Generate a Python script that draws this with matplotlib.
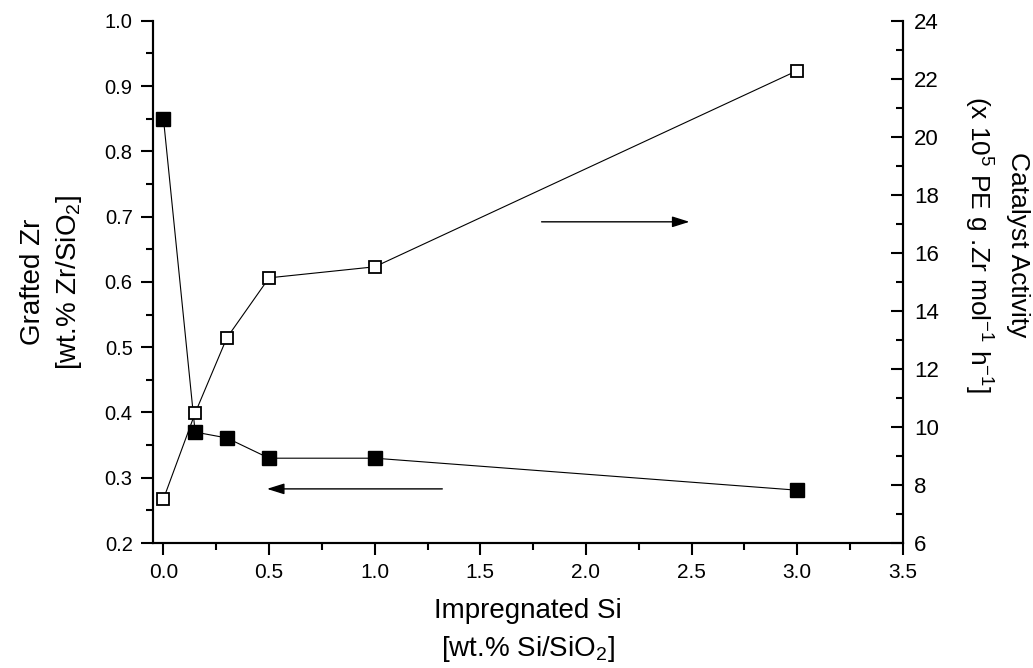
import matplotlib
matplotlib.use("Agg")
import matplotlib.pyplot as plt
from matplotlib.ticker import MultipleLocator

plt.rcParams['font.family'] = ['Liberation Sans', 'DejaVu Sans']
plt.rcParams['mathtext.fontset'] = 'custom'
plt.rcParams['mathtext.rm'] = 'Liberation Sans'
plt.rcParams['mathtext.it'] = 'Liberation Sans:italic'

# impregnated Si [wt.% Si/SiO2]
si = [0.0, 0.15, 0.3, 0.5, 1.0, 3.0]
# grafted Zr [wt.% Zr/SiO2] (filled squares, left axis)
zr = [0.85, 0.37, 0.361, 0.33, 0.33, 0.281]
# catalyst activity (open squares, right axis)
activity = [7.52, 10.48, 13.07, 15.14, 15.52, 22.28]

fig = plt.figure(figsize=(10.33, 6.68), dpi=100)
ax = fig.add_axes([0.148, 0.187, 0.726, 0.782])
ax2 = ax.twinx()

ax.plot(si, zr, color='black', lw=0.8, marker='s', ms=9.5,
        mfc='black', mec='black', zorder=3)
ax2.plot(si, activity, color='black', lw=0.8, marker='s', ms=9,
         mfc='white', mec='black', mew=1.3, zorder=3)

ax.set_xlim(-0.05, 3.5)
ax.set_ylim(0.2, 1.0)
ax2.set_ylim(6, 24)

ax.xaxis.set_major_locator(MultipleLocator(0.5))
ax.xaxis.set_minor_locator(MultipleLocator(0.25))
ax.yaxis.set_major_locator(MultipleLocator(0.1))
ax.yaxis.set_minor_locator(MultipleLocator(0.05))
ax2.yaxis.set_major_locator(MultipleLocator(2))
ax2.yaxis.set_minor_locator(MultipleLocator(1))
ax.xaxis.set_major_formatter(plt.FormatStrFormatter('%.1f'))
ax.yaxis.set_major_formatter(plt.FormatStrFormatter('%.1f'))

for a in (ax, ax2):
    a.spines['top'].set_visible(False)
    for s in a.spines.values():
        s.set_linewidth(1.5)
ax.tick_params(axis='both', which='major', direction='out', length=8.5,
               width=1.5, labelsize=14.5)
ax.tick_params(axis='both', which='minor', direction='out', length=5,
               width=1.5)
ax.tick_params(axis='y', which='major', pad=6)
ax.tick_params(axis='x', which='major', pad=6, labelsize=15)
ax2.tick_params(axis='y', which='major', direction='in', length=8.5,
                width=1.5, labelsize=16, pad=8)
ax2.tick_params(axis='y', which='minor', direction='in', length=5, width=1.5)

# arrows pointing to the axis each series belongs to
ax.annotate('', xy=(0.49, 0.283), xytext=(1.32, 0.283),
            arrowprops=dict(arrowstyle='-|>,head_length=0.7,head_width=0.22',
                            mutation_scale=15, lw=1, color='black',
                            shrinkA=0, shrinkB=0))
ax2.annotate('', xy=(2.49, 17.07), xytext=(1.79, 17.07),
             arrowprops=dict(arrowstyle='-|>,head_length=0.7,head_width=0.22',
                             mutation_scale=15, lw=1, color='black',
                             shrinkA=0, shrinkB=0))

fig.text(52 / 1033, 1 - 282 / 668, 'Grafted Zr\n[wt.% Zr/SiO$_2$]',
         rotation=90, ha='center', va='center', multialignment='center',
         fontsize=20, linespacing=1.4)
fig.text(996 / 1033, 1 - 245 / 668,
         'Catalyst Activity\n(x 10$^5$ PE g .Zr mol$^{-1}$ h$^{-1}$]',
         rotation=270, ha='center', va='center', multialignment='center',
         fontsize=19, linespacing=1.5)
fig.text(528 / 1033, 1 - 631 / 668, 'Impregnated Si\n[wt.% Si/SiO$_2$]',
         ha='center', va='center', multialignment='center',
         fontsize=20, linespacing=1.5)

fig.savefig('out.png', dpi=100)
